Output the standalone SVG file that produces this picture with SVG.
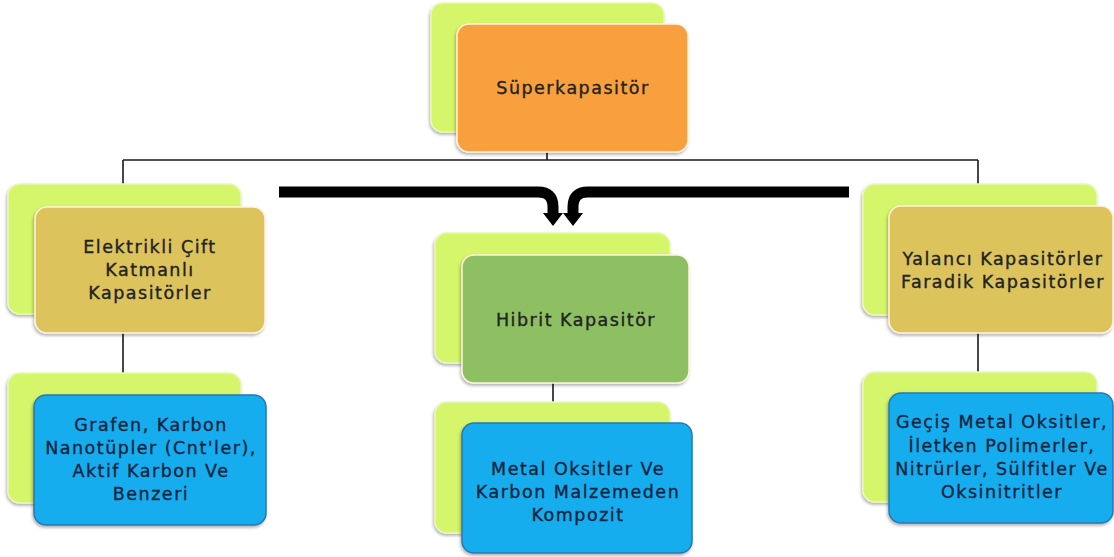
<svg xmlns="http://www.w3.org/2000/svg" width="1114" height="557" viewBox="0 0 1114 557">
<defs>
<filter id="sh" x="-10%" y="-10%" width="120%" height="125%">
<feDropShadow dx="-1" dy="2" stdDeviation="1.5" flood-color="#000" flood-opacity="0.3"/>
</filter>
<style>
.back{fill:#d5f56b;stroke:#e9f7b8;stroke-width:1.5;filter:url(#sh)}
.front{stroke:#fff3e0;stroke-width:1.5;filter:url(#sh)}
.or{fill:#f8a03d}
.tan{fill:#dcc35b}
.grn{fill:#8dc063}
.blu{fill:#16adef;stroke:#2878b4}
.t{font-family:"DejaVu Sans","Liberation Sans",sans-serif;font-size:17.5px;letter-spacing:1.5px;text-anchor:middle;fill:#222;stroke:#222;stroke-width:0.35}
.tb{fill:#10243d;stroke:#10243d}
.ln{stroke:#1a1a1a;stroke-width:1.6;fill:none}
.big{stroke:#000;stroke-width:11;fill:none}
</style>
</defs>
<rect width="1114" height="557" fill="#fff"/>
<g id="connectors">
<path class="ln" d="M547,152 V160 M123,160 H978 M123,160 V185 M978,160 V185 M123,333 V374 M978,333 V373 M553,383 V403"/>
<path class="big" d="M279,192 H538 Q553,192 553,207 V214"/>
<polygon points="543,213 563,213 553,226" fill="#000"/>
<path class="big" d="M849,192 H588 Q573,192 573,207 V214"/>
<polygon points="563,213 583,213 573,226" fill="#000"/>
</g>
<g id="n-super">
<rect class="back" x="431" y="3" width="233" height="129" rx="12"/>
<rect class="front or" x="457" y="24" width="231" height="128" rx="12"/>
<text class="t" x="573" y="94">Süperkapasitör</text>
</g>
<g id="n-edlc">
<rect class="back" x="8" y="184" width="233" height="130" rx="12"/>
<rect class="front tan" x="35" y="207" width="230" height="126" rx="12"/>
<text class="t" x="150" y="253">Elektrikli Çift</text>
<text class="t" x="150" y="276">Katmanlı</text>
<text class="t" x="150" y="299">Kapasitörler</text>
</g>
<g id="n-hibrit">
<rect class="back" x="435" y="233" width="235" height="130" rx="12"/>
<rect class="front grn" x="462" y="255" width="227" height="128" rx="12"/>
<text class="t" x="576" y="326">Hibrit Kapasitör</text>
</g>
<g id="n-pseudo">
<rect class="back" x="863" y="184" width="234" height="131" rx="12"/>
<rect class="front tan" x="889" y="206" width="224" height="127" rx="12"/>
<text class="t" x="1003" y="265">Yalancı Kapasitörler</text>
<text class="t" x="1003" y="288">Faradik Kapasitörler</text>
</g>
<g id="n-grafen">
<rect class="back" x="8" y="373" width="233" height="130" rx="12"/>
<rect class="front blu" x="34" y="395" width="232" height="130" rx="12"/>
<text class="t tb" x="151" y="431">Grafen, Karbon</text>
<text class="t tb" x="151" y="454">Nanotüpler (Cnt'ler),</text>
<text class="t tb" x="151" y="477">Aktif Karbon Ve</text>
<text class="t tb" x="151" y="500">Benzeri</text>
</g>
<g id="n-metal">
<rect class="back" x="435" y="402" width="235" height="131" rx="12"/>
<rect class="front blu" x="462" y="423" width="230" height="130" rx="12"/>
<text class="t tb" x="578" y="475">Metal Oksitler Ve</text>
<text class="t tb" x="578" y="498">Karbon Malzemeden</text>
<text class="t tb" x="578" y="521">Kompozit</text>
</g>
<g id="n-gecis">
<rect class="back" x="863" y="372" width="234" height="130" rx="12"/>
<rect class="front blu" x="889" y="393" width="224" height="130" rx="12"/>
<text class="t tb" x="1002" y="428">Geçiş Metal Oksitler,</text>
<text class="t tb" x="1002" y="452">İletken Polimerler,</text>
<text class="t tb" x="1002" y="475">Nitrürler, Sülfitler Ve</text>
<text class="t tb" x="1002" y="498">Oksinitritler</text>
</g>
</svg>
